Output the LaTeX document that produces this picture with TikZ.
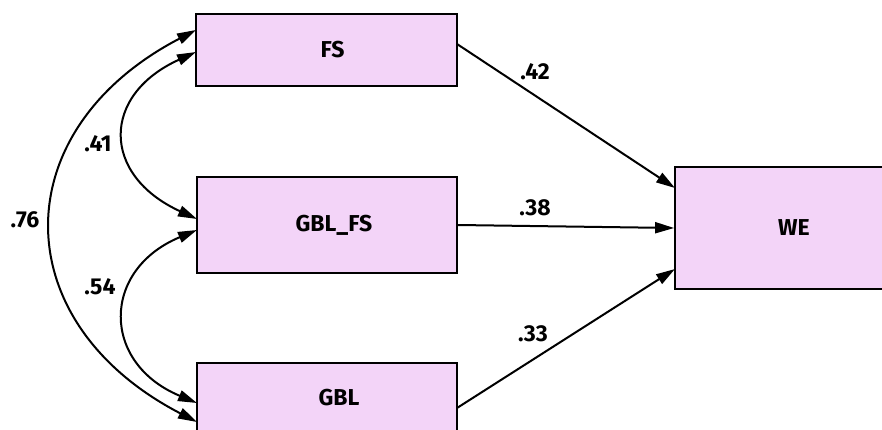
\documentclass[tikz,border=0pt]{standalone}
\usepackage{fontspec}
\setmainfont{Fira Sans}
\usetikzlibrary{arrows.meta}
\definecolor{boxfill}{RGB}{243,212,248}
\begin{document}
\begin{tikzpicture}[x=1pt,y=-1pt,
  var/.style={draw=black,line width=1.8pt,fill=boxfill,inner sep=0pt,font=\fontsize{23}{26}\selectfont\bfseries},
  path/.style={line width=2pt,-{Triangle[length=19pt,width=11pt]}},
  cov/.style={line width=2pt,{Triangle[length=19pt,width=11pt]}-{Triangle[length=19pt,width=11pt]}},
  lab/.style={font=\fontsize{23}{26}\selectfont\bfseries}]
\useasboundingbox (0,0) rectangle (882,430);
\node[var,minimum width=261pt,minimum height=72pt] (fs) at (326.5,50) {\hspace*{12pt}FS};
\node[var,minimum width=260pt,minimum height=96pt] (gblfs) at (327,225) {\hspace*{14pt}GBL\_FS};
\node[var,minimum width=260pt,minimum height=70pt] (gbl) at (327,398) {\hspace*{24pt}GBL};
\node[var,minimum width=238pt,minimum height=122pt] (we) at (794,228) {WE};
% anchor points
\coordinate (fsA) at (196,30);
\coordinate (fsB) at (196,52);
\coordinate (gfA) at (197,219);
\coordinate (gfB) at (197,230);
\coordinate (gbA) at (197,403);
\coordinate (gbB) at (197,422);
\coordinate (fsR) at (457,44);
\coordinate (gbR) at (457,408);
\coordinate (weA) at (675,188);
\coordinate (weC) at (675,269);
% regression paths
\draw[path] (fsR) -- (weA);
\draw[path] (gblfs.east) -- (we.west);
\draw[path] (gbR) -- (weC);
\node[lab] (l42) at (535,72) {.42};
\node[lab] (l38) at (535,208) {.38};
\node[lab] (l33) at (533,334) {.33};
% covariances
\draw[cov] (fsA) .. controls (4,130) and (4,322) .. (gbB);
\draw[cov] (fsB) .. controls (101,95) and (101,175) .. (gfA);
\draw[cov] (gfB) .. controls (101,270) and (101,363) .. (gbA);
\node[lab] (l41) at (98,144) {.41};
\node[lab] (l76) at (25,220) {.76};
\node[lab] (l54) at (100,287) {.54};
\end{tikzpicture}
\end{document}
